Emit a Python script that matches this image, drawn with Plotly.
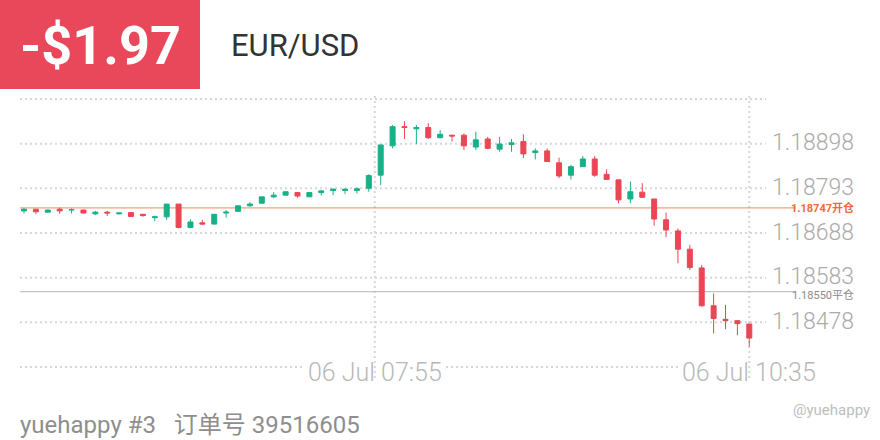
import plotly.graph_objects as go

# ---- data ----
open_ = [1.18740, 1.18744, 1.18737, 1.18744, 1.18742, 1.18742, 1.18733, 1.18737, 1.18733, 1.18736,
         1.18732, 1.18724, 1.18726, 1.18756, 1.18701, 1.18712, 1.18709, 1.18735, 1.18739, 1.18752,
         1.18758, 1.18773, 1.18777, 1.18783, 1.18773, 1.18783, 1.18788, 1.18788, 1.18788, 1.18793,
         1.18824, 1.18893, 1.18938, 1.18933, 1.18936, 1.18912, 1.18918, 1.18918, 1.18890, 1.18909,
         1.18885, 1.18896, 1.18903, 1.18877, 1.18881, 1.18853, 1.18824, 1.18844, 1.18862, 1.18826,
         1.18813, 1.18768, 1.18784, 1.18768, 1.18719, 1.18693, 1.18650, 1.18606, 1.18517, 1.18485,
         1.18482, 1.18474]
high = [1.18746, 1.18744, 1.18743, 1.18748, 1.18746, 1.18743, 1.18740, 1.18740, 1.18736, 1.18737,
        1.18733, 1.18729, 1.18756, 1.18756, 1.18720, 1.18719, 1.18732, 1.18742, 1.18752, 1.18761,
        1.18773, 1.18784, 1.18786, 1.18783, 1.18783, 1.18789, 1.18793, 1.18793, 1.18795, 1.18826,
        1.18895, 1.18942, 1.18951, 1.18942, 1.18946, 1.18930, 1.18918, 1.18922, 1.18926, 1.18914,
        1.18914, 1.18909, 1.18920, 1.18887, 1.18887, 1.18865, 1.18848, 1.18869, 1.18869, 1.18838,
        1.18813, 1.18809, 1.18805, 1.18768, 1.18736, 1.18699, 1.18660, 1.18613, 1.18546, 1.18519,
        1.18482, 1.18475]
low = [1.18734, 1.18732, 1.18736, 1.18733, 1.18734, 1.18734, 1.18730, 1.18728, 1.18732, 1.18726,
       1.18726, 1.18716, 1.18719, 1.18699, 1.18699, 1.18707, 1.18709, 1.18724, 1.18738, 1.18750,
       1.18757, 1.18770, 1.18777, 1.18771, 1.18773, 1.18776, 1.18777, 1.18780, 1.18781, 1.18785,
       1.18801, 1.18887, 1.18909, 1.18897, 1.18909, 1.18911, 1.18903, 1.18883, 1.18883, 1.18885,
       1.18879, 1.18879, 1.18864, 1.18861, 1.18855, 1.18817, 1.18814, 1.18843, 1.18820, 1.18814,
       1.18758, 1.18758, 1.18771, 1.18705, 1.18678, 1.18617, 1.18601, 1.18515, 1.18452, 1.18462,
       1.18448, 1.18421]
close = [1.18744, 1.18738, 1.18742, 1.18740, 1.18743, 1.18735, 1.18737, 1.18735, 1.18735, 1.18727,
         1.18729, 1.18726, 1.18756, 1.18701, 1.18714, 1.18709, 1.18732, 1.18737, 1.18752, 1.18756,
         1.18773, 1.18777, 1.18785, 1.18775, 1.18783, 1.18787, 1.18791, 1.18791, 1.18792, 1.18823,
         1.18895, 1.18938, 1.18936, 1.18936, 1.18912, 1.18920, 1.18916, 1.18893, 1.18907, 1.18887,
         1.18897, 1.18900, 1.18874, 1.18881, 1.18856, 1.18822, 1.18844, 1.18862, 1.18824, 1.18814,
         1.18766, 1.18785, 1.18772, 1.18721, 1.18695, 1.18650, 1.18607, 1.18517, 1.18487, 1.18482,
         1.18475, 1.18441]

price_ticks = [1.18898, 1.18793, 1.18688, 1.18583, 1.18478]
grid_top = 1.19003
grid_bottom = 1.18373
time_labels = ["06 Jul 07:55", "06 Jul 10:35"]
time_pos = [29.5, 61]
open_price = 1.18747
close_price = 1.18550
open_label = "1.18747开仓"
close_label = "1.18550平仓"
pnl_text = "-$1.97"
symbol_text = "EUR/USD"
footer_text = "yuehappy #3   订单号 39516605"
watermark_text = "@yuehappy"

# ---- styles ----
GREEN = "#15b188"
RED = "#ea4656"
GRID = "#d6d6d6"
W, H = 880, 440

x = list(range(len(open_)))

fig = go.Figure()
fig.add_trace(go.Candlestick(
    x=x, open=open_, high=high, low=low, close=close,
    increasing=dict(line=dict(color=GREEN, width=1), fillcolor=GREEN),
    decreasing=dict(line=dict(color=RED, width=1), fillcolor=RED),
    whiskerwidth=0, hoverinfo="skip", showlegend=False,
))

def px(v):
    return v / W

def py(v):
    return 1 - v / H

shapes = []
# horizontal dotted grid lines
for lvl in [grid_top] + price_ticks:
    shapes.append(dict(type="line", xref="paper", yref="y", x0=px(20), x1=px(766),
                       y0=lvl, y1=lvl, line=dict(color=GRID, width=2, dash="2px,3px"), layer="below"))
for a, b in [(20, 302), (446, 680)]:
    shapes.append(dict(type="line", xref="paper", yref="y", x0=px(a), x1=px(b),
                       y0=grid_bottom, y1=grid_bottom, line=dict(color=GRID, width=2, dash="2px,3px"),
                       layer="below"))
# vertical dotted lines at time labels
for tp in time_pos:
    shapes.append(dict(type="line", xref="x", yref="paper", x0=tp, x1=tp,
                       y0=py(378), y1=py(96), line=dict(color=GRID, width=2, dash="2px,3px"),
                       layer="below"))
# open / close price lines
shapes.append(dict(type="line", xref="paper", yref="y", x0=px(20), x1=px(796),
                   y0=open_price, y1=open_price, line=dict(color="#f4845a", width=1), layer="below"))
shapes.append(dict(type="line", xref="paper", yref="y", x0=px(20), x1=px(796),
                   y0=close_price, y1=close_price, line=dict(color="#b4b4b4", width=1), layer="below"))
# header red box
shapes.append(dict(type="rect", xref="paper", yref="paper", x0=0, x1=px(200), y0=py(89), y1=1,
                   fillcolor="#e9485a", line=dict(width=0), layer="below"))

ann = []
for t in price_ticks:
    ann.append(dict(xref="paper", yref="y", x=px(856), y=t, xanchor="right", yanchor="middle",
                    text=f"{t:.5f}", showarrow=False, yshift=1,
                    font=dict(family="Roboto", size=23, color="#ababab", weight=300)))
for lab, tp in zip(time_labels, time_pos):
    ann.append(dict(xref="x", yref="y", x=tp, y=grid_bottom, xanchor="center", yanchor="middle",
                    text=lab, showarrow=False, yshift=-5,
                    font=dict(family="Roboto", size=25, color="#b8b8b8", weight=300)))
ann.append(dict(xref="paper", yref="y", x=px(856), y=open_price, xanchor="right", yanchor="middle",
                text=open_label, showarrow=False,
                font=dict(family="Roboto, Noto Sans CJK SC", size=11, color="#f06a3a", weight=700)))
ann.append(dict(xref="paper", yref="y", x=px(856), y=close_price, xanchor="right", yanchor="middle",
                text=close_label, showarrow=False, yshift=-3,
                font=dict(family="Roboto, Noto Sans CJK SC", size=11, color="#8a8a8a")))
ann.append(dict(xref="paper", yref="paper", x=px(100), y=py(46), xanchor="center", yanchor="middle",
                text=pnl_text, showarrow=False,
                font=dict(family="Roboto", size=54, color="white", weight=700)))
ann.append(dict(xref="paper", yref="paper", x=px(229), y=py(45), xanchor="left", yanchor="middle",
                text=symbol_text, showarrow=False,
                font=dict(family="Roboto", size=31, color="#333333")))
ann.append(dict(xref="paper", yref="paper", x=px(18), y=py(425), xanchor="left", yanchor="middle",
                text=footer_text, showarrow=False,
                font=dict(family="Roboto, Noto Sans CJK SC", size=24, color="#8e8e8e")))
ann.append(dict(xref="paper", yref="paper", x=px(872), y=py(410), xanchor="right", yanchor="middle",
                text=watermark_text, showarrow=False,
                font=dict(family="Roboto", size=15, color="#bdbdbd")))

xpx0 = 24.0
xstep = 11.89
y_top_price = 1.1923571
y_bot_price = 1.1820145

fig.update_layout(
    width=W, height=H, margin=dict(l=0, r=0, t=0, b=0),
    paper_bgcolor="white", plot_bgcolor="white",
    xaxis=dict(visible=False, range=[-xpx0 / xstep, (W - xpx0) / xstep], rangeslider=dict(visible=False),
               fixedrange=True),
    yaxis=dict(visible=False, range=[y_bot_price, y_top_price], fixedrange=True),
    boxgap=0.4,
    shapes=shapes, annotations=ann, showlegend=False, dragmode=False,
)

fig.write_html("out.html", config={"displayModeBar": False})
